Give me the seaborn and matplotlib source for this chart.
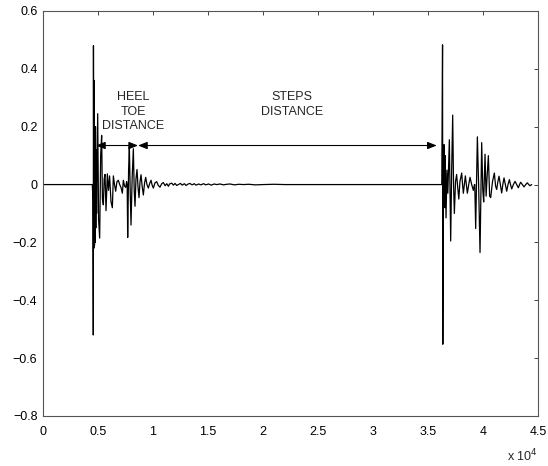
import matplotlib
matplotlib.use('Agg')
import matplotlib.pyplot as plt
import seaborn as sns
import pandas as pd

# --- signal samples (sample index, amplitude) ---

quiet_x = [0, 4450]
quiet_y = [0.0, 0.0]

heel_x = [4480, 4540, 4570, 4585, 4620, 4650, 4680, 4710, 4740, 4770, 4800,
          4830, 4870, 4920, 4970, 5050, 5150, 5240, 5330, 5400, 5485, 5560,
          5636, 5727, 5848, 5950, 6050, 6182, 6303, 6394, 6500, 6606, 6720,
          6848, 6970, 7091, 7212, 7303, 7410, 7515, 7600]
heel_y = [0.0, -0.05, -0.52, 0.48, -0.22, 0.36, -0.21, 0.10, -0.20, 0.20, -0.15,
          0.12, -0.10, 0.08, 0.245, -0.12, -0.185, 0.10, 0.17, -0.05, -0.07, 0.02,
          0.035, -0.09, 0.037, -0.02, 0.03, -0.06, -0.08, 0.03, 0.0, -0.023, 0.01,
          0.015, 0.0, -0.01, -0.03, 0.015, -0.005, -0.01, 0.01]

toe_x = [7650, 7697, 7780, 7848, 7930, 8000, 8100, 8212, 8290, 8364, 8450,
         8545, 8640, 8727, 8820, 8909, 9010, 9121, 9230, 9333, 9450, 9576,
         9700, 9818, 9920, 10030, 10180, 10333, 10480, 10636, 10790, 10939]
toe_y = [0.0, -0.183, 0.05, 0.13, -0.03, -0.14, 0.02, 0.124, -0.02, -0.075, 0.02,
         0.052, -0.01, -0.045, 0.01, 0.034, -0.005, -0.036, 0.005, 0.025, 0.0, -0.012,
         0.004, 0.015, -0.002, -0.012, 0.006, 0.010, -0.003, -0.009, 0.003, 0.007]

tail_x = [11100, 11250, 11400, 11500, 11700, 11850, 12000, 12150, 12350, 12500,
          12650, 12850, 13000, 13200, 13350, 13550, 13750, 13900, 14150, 14350,
          14600, 14800, 15050, 15300, 15550, 15800, 16100, 16400, 16700, 17000,
          17400, 17800, 18200, 18700, 19300, 20000, 21000, 22000, 36250]
tail_y = [-0.004, 0.003, -0.006, 0.002, 0.005, -0.002, 0.004, -0.003, 0.001, 0.004,
          -0.002, 0.003, -0.003, 0.002, 0.004, -0.001, 0.003, -0.002, 0.002, -0.001,
          0.003, -0.001, 0.002, -0.002, 0.002, 0.0, 0.002, -0.001, 0.001, 0.002,
          -0.001, 0.001, 0.0, 0.001, -0.001, 0.0, 0.001, 0.0, 0.0]

step_x = [36320, 36345, 36400, 36430, 36455, 36520, 36560, 36636, 36720, 36800,
          36939, 37060, 37150, 37242, 37320, 37394, 37500, 37600, 37700, 37800,
          37900, 38061, 38140, 38212, 38300, 38394, 38490, 38576, 38700, 38818,
          38970, 39121, 39220]
step_y = [0.483, -0.552, 0.12, -0.05, 0.138, -0.08, 0.10, -0.115, 0.05, -0.03,
          0.155, -0.195, 0.05, 0.24, 0.0, -0.10, 0.01, 0.035, -0.01, -0.05,
          0.01, 0.04, 0.0, -0.03, 0.0, 0.03, 0.0, -0.03, 0.0, 0.025,
          0.0, -0.02, 0.0]

second_x = [39250, 39333, 39485, 39600, 39727, 39878, 39980, 40060, 40182, 40280,
            40360, 40485, 40600, 40697, 40860, 41030, 41140, 41242, 41350, 41455,
            41580, 41697, 41800, 41909, 42030, 42152, 42270, 42394, 42500, 42606,
            42760, 42909, 43060, 43212, 43320, 43424, 43580, 43727, 43880, 44030,
            44150, 44273, 44424]
second_y = [0.0, -0.152, 0.165, 0.0, -0.235, 0.145, -0.02, -0.06, 0.105, -0.04,
            0.02, 0.10, -0.04, -0.045, 0.01, 0.04, -0.005, -0.017, 0.01, 0.029,
            0.0, -0.029, 0.0, 0.023, 0.0, -0.023, 0.0, 0.017, 0.0, -0.015,
            0.0, 0.011, 0.0, -0.011, 0.0, 0.008, 0.0, -0.008, 0.0, 0.006,
            0.0, -0.004, 0.0]

x_ticks = [0, 5000, 10000, 15000, 20000, 25000, 30000, 35000, 40000, 45000]
x_labels = ['0', '0.5', '1', '1.5', '2', '2.5', '3', '3.5', '4', '4.5']
y_ticks = [-0.8, -0.6, -0.4, -0.2, 0, 0.2, 0.4, 0.6]
y_labels = ['\u22120.8', '\u22120.6', '\u22120.4', '\u22120.2', '0', '0.2', '0.4', '0.6']

signal = pd.DataFrame({
    'n': quiet_x + heel_x + toe_x + tail_x + step_x + second_x,
    'amp': quiet_y + heel_y + toe_y + tail_y + step_y + second_y,
})

# --- plot ---
sns.set_style('white')
plt.rcParams['font.family'] = ['Liberation Sans', 'DejaVu Sans']

fig = plt.figure(figsize=(5.48, 4.66), dpi=100)
ax = fig.add_axes([0.0785, 0.1073, 0.9033, 0.8691])

sns.lineplot(data=signal, x='n', y='amp', color='black', linewidth=0.9,
             estimator=None, sort=True, ax=ax)

ax.set_xlim(0, 45000)
ax.set_ylim(-0.8, 0.6)
ax.set_xticks(x_ticks)
ax.set_xticklabels(x_labels)
ax.set_yticks(y_ticks)
ax.set_yticklabels(y_labels)
ax.set_xlabel('')
ax.set_ylabel('')

ax.tick_params(direction='in', length=3, width=0.7, colors='#444444',
               labelcolor='black', labelsize=9, top=True, right=True)
ax.tick_params(axis='x', pad=7)
ax.tick_params(axis='y', pad=4)
for s in ax.spines.values():
    s.set_color('#555555')
    s.set_linewidth(0.8)

# exponent label in the MATLAB style
ax.text(1.0, -0.078, 'x 10$^4$', transform=ax.transAxes, ha='right', va='top',
        fontsize=9)

# distance arrows
arrow_y = 0.135
arrow_style = dict(arrowstyle='<|-|>,head_length=0.55,head_width=0.22',
                   color='black', lw=0.8, shrinkA=0, shrinkB=0)
ax.annotate('', xy=(4820, arrow_y), xytext=(8640, arrow_y), arrowprops=arrow_style)
ax.annotate('', xy=(8640, arrow_y), xytext=(35790, arrow_y), arrowprops=arrow_style)

ax.text(8180, 0.252, 'HEEL\nTOE\nDISTANCE', ha='center', va='center',
        fontsize=9, linespacing=1.3)
ax.text(22640, 0.276, 'STEPS\nDISTANCE', ha='center', va='center',
        fontsize=9, linespacing=1.3)

fig.savefig('out.png', dpi=100)
